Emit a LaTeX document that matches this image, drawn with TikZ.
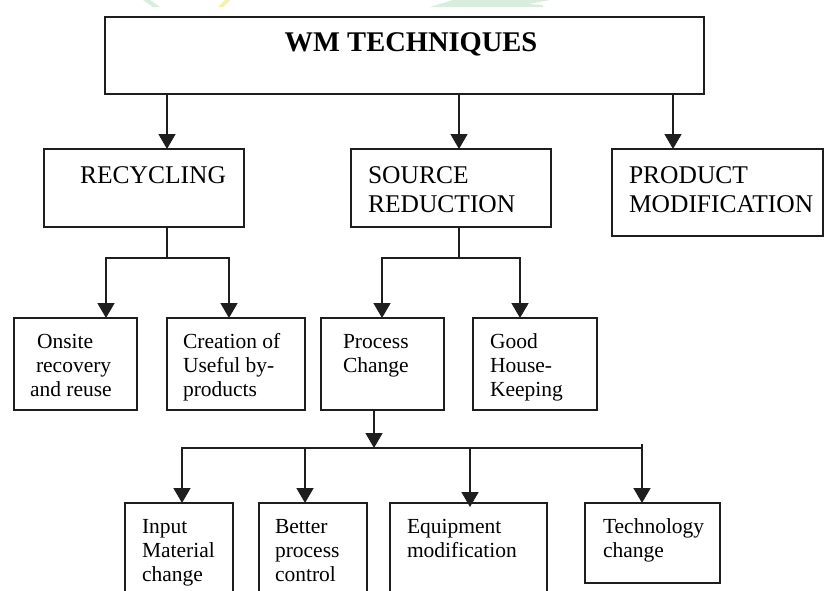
\documentclass[tikz,border=0pt]{standalone}
\usepackage{fontspec}
\setmainfont{Liberation Serif}
\usetikzlibrary{arrows.meta}
\definecolor{wmgreen}{HTML}{D8EDDD}
\definecolor{wmyellow}{HTML}{F6F1A6}
\definecolor{linecol}{HTML}{1E1E1E}
\begin{document}
\begin{tikzpicture}[x=1pt,y=-1pt,
  boxnode/.style={draw=linecol, line width=1.6pt, inner sep=0pt, outer sep=0pt, anchor=north west},
  txt/.style={inner sep=0pt, outer sep=0pt, anchor=base west, text=black},
  bigtxt/.style={txt, font=\fontsize{25.5}{29}\selectfont},
  smalltxt/.style={txt, font=\fontsize{21.5}{24}\selectfont},
  conn/.style={draw=linecol, line width=1.5pt},
  arr/.style={conn, -{Triangle[width=17pt,length=15pt]}}]
\useasboundingbox (0,0) rectangle (824,590);
\clip (0,0) rectangle (824,590);
\fill[white] (0,0) rectangle (824,590);
% faint watermark
\fill[wmgreen] (143,0) -- (150,0) -- (160,7) -- (153,7) -- cycle;
\fill[wmyellow] (225,0) -- (230,0) -- (223,7) -- (218,7) -- cycle;
\fill[wmgreen] (453,0) -- (550,0) -- (513,7) -- (430,7) -- cycle;
\fill[wmgreen] (513,3) -- (543,5) -- (543,7) -- (513,7) -- cycle;
% boxes
\node[boxnode, minimum width=599, minimum height=77] (wm) at (105,17) {};
\node[boxnode, minimum width=200, minimum height=78] (rec) at (44,149) {};
\node[boxnode, minimum width=200, minimum height=78] (src) at (351,149) {};
\node[boxnode, minimum width=211, minimum height=87] (prod) at (612,149) {};
\node[boxnode, minimum width=123, minimum height=92] (on) at (14,318) {};
\node[boxnode, minimum width=138, minimum height=92] (cr) at (167,318) {};
\node[boxnode, minimum width=123, minimum height=92] (pc) at (321,318) {};
\node[boxnode, minimum width=124, minimum height=92] (gh) at (473,318) {};
\node[boxnode, minimum width=108, minimum height=120] (inp) at (125,503) {};
\node[boxnode, minimum width=108, minimum height=120] (bp) at (259,503) {};
\node[boxnode, minimum width=157, minimum height=120] (eq) at (390,503) {};
\node[boxnode, minimum width=135, minimum height=80] (tc) at (585,503) {};
% texts
\node[txt, anchor=base, font=\fontsize{28.5}{32}\selectfont\bfseries] (wmT) at (411,51) {WM TECHNIQUES};
\node[bigtxt] (recT) at (80,183) {RECYCLING};
\node[bigtxt] (srcT) at (368,183) {\vtop{\hbox{SOURCE}\hbox{REDUCTION}}};
\node[bigtxt] (prodT) at (629,183) {\vtop{\hbox{PRODUCT}\hbox{MODIFICATION}}};
\node[smalltxt] (onT) at (37,348) {\vtop{\hbox{Onsite}\hbox{\kern-1pt recovery}\hbox{\kern-7pt and reuse}}};
\node[smalltxt] (crT) at (183,348) {\vtop{\hbox{Creation of}\hbox{Useful by-}\hbox{products}}};
\node[smalltxt] (pcT) at (343,348) {\vtop{\hbox{Process}\hbox{Change}}};
\node[smalltxt] (ghT) at (490,348) {\vtop{\hbox{Good}\hbox{House-}\hbox{Keeping}}};
\node[smalltxt] (inT) at (142,533) {\vtop{\hbox{Input}\hbox{Material}\hbox{change}}};
\node[smalltxt] (bpT) at (275,533) {\vtop{\hbox{Better}\hbox{process}\hbox{control}}};
\node[smalltxt] (eqT) at (407,533) {\vtop{\hbox{Equipment}\hbox{modification}}};
\node[smalltxt] (tcT) at (603,533) {\vtop{\hbox{Technology}\hbox{change}}};
% connector coordinates
\coordinate (c1) at (167,0);
\coordinate (c2) at (459,0);
\coordinate (c3) at (673,0);
\coordinate (rj) at (167,258);
\coordinate (sj) at (459,258);
\coordinate (aon) at (106,0);
\coordinate (acr) at (229,0);
\coordinate (apc) at (382,0);
\coordinate (agh) at (520,0);
\coordinate (pj) at (374,448);
\coordinate (ain) at (182,0);
\coordinate (abp) at (305,0);
\coordinate (aeq) at (470,0);
\coordinate (tk) at (642,444);
% connectors
\draw[arr] (wm.south -| c1) -- (rec.north -| c1);
\draw[arr] (wm.south -| c2) -- (src.north -| c2);
\draw[arr] (wm.south -| c3) -- (prod.north -| c3);
\draw[conn] (rec.south -| rj) -- (rj);
\draw[arr] (rj) -| (on.north -| aon);
\draw[arr] (rj) -| (cr.north -| acr);
\draw[conn] (src.south -| sj) -- (sj);
\draw[arr] (sj) -| (pc.north -| apc);
\draw[arr] (sj) -| (gh.north -| agh);
\draw[arr] (pc.south -| pj) -- (pj);
\draw[arr] (pj) -| (inp.north -| ain);
\draw[arr] (pj) -| (bp.north -| abp);
\draw[arr, shorten >=-4pt] (pj) -| (eq.north -| aeq);
\draw[conn] (pj) -- (pj -| tk);
\draw[arr] (tk) -- (tc.north -| tk);
\end{tikzpicture}
\end{document}
